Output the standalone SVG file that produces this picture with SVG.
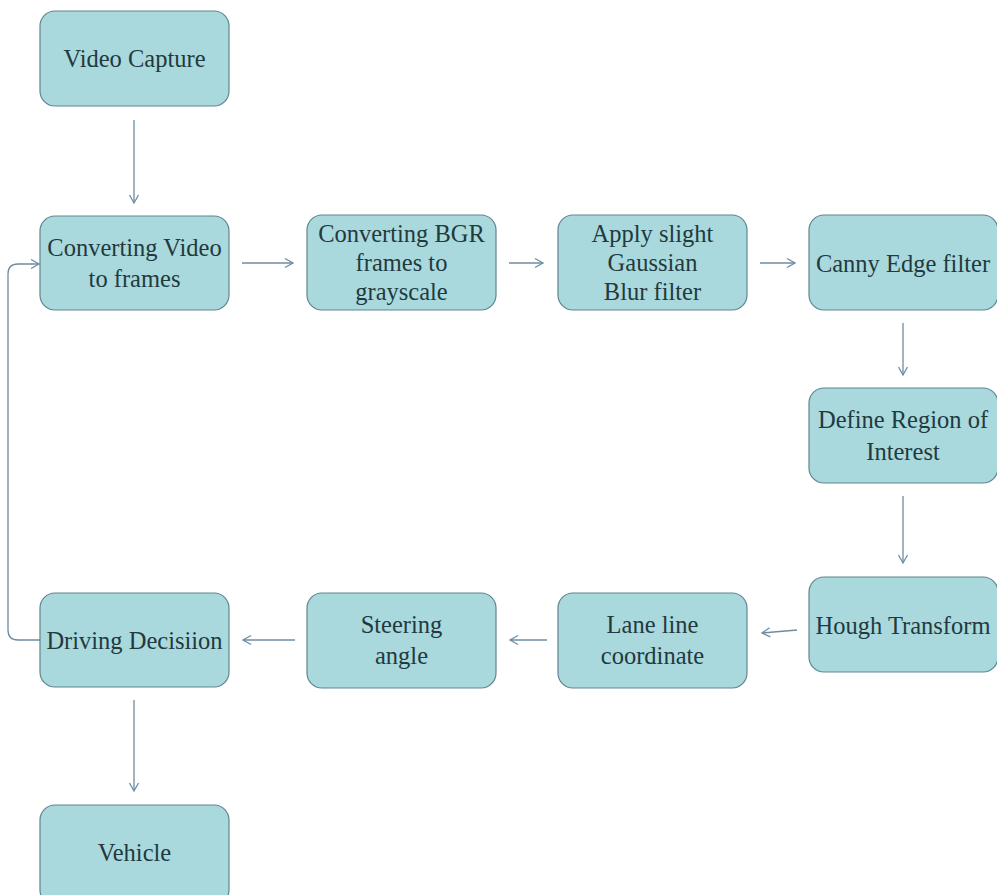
<svg xmlns="http://www.w3.org/2000/svg" width="997" height="895" viewBox="0 0 997 895" font-family="Liberation Serif, serif">
<style>
.box{fill:#a9d9dc;stroke:#5f8590;stroke-width:1.2}
.t{font-size:24.5px;fill:#22393f;text-anchor:middle}
.c{fill:none;stroke:#6d8ca1;stroke-width:1.3}
</style>
<defs>
<marker id="ah" markerWidth="12" markerHeight="12" refX="10" refY="6" orient="auto" markerUnits="userSpaceOnUse">
<path d="M2,1.5 L10,6 L2,10.5" fill="none" stroke="#6d8ca1" stroke-width="1.3"/>
</marker>
</defs>
<rect width="997" height="895" fill="#ffffff"/>
<g id="connectors">
<line class="c" x1="134" y1="120" x2="134" y2="203" marker-end="url(#ah)"/>
<line class="c" x1="242" y1="263" x2="293" y2="263" marker-end="url(#ah)"/>
<line class="c" x1="509" y1="263" x2="543" y2="263" marker-end="url(#ah)"/>
<line class="c" x1="760" y1="263" x2="795" y2="263" marker-end="url(#ah)"/>
<line class="c" x1="903" y1="323" x2="903" y2="375" marker-end="url(#ah)"/>
<line class="c" x1="903" y1="496" x2="903" y2="563" marker-end="url(#ah)"/>
<line class="c" x1="797" y1="630" x2="762" y2="633" marker-end="url(#ah)"/>
<line class="c" x1="547" y1="640" x2="510" y2="640" marker-end="url(#ah)"/>
<line class="c" x1="295" y1="640" x2="243" y2="640" marker-end="url(#ah)"/>
<line class="c" x1="134" y1="700" x2="134" y2="791" marker-end="url(#ah)"/>
<path class="c" d="M40,640 L18,640 Q8,640 8,630 L8,274 Q8,264 18,264 L39,264" marker-end="url(#ah)"/>
</g>
<g id="video-capture"><rect class="box" x="40" y="11" width="189" height="95" rx="15"/><text class="t" x="134.5" y="67">Video Capture</text></g>
<g id="converting-video"><rect class="box" x="40" y="216" width="189" height="94" rx="15"/><text class="t" x="134.5" y="256">Converting Video</text><text class="t" x="134.5" y="287">to frames</text></g>
<g id="converting-bgr"><rect class="box" x="307" y="215" width="189" height="95" rx="15"/><text class="t" x="401.5" y="242">Converting BGR</text><text class="t" x="401.5" y="271">frames to</text><text class="t" x="401.5" y="300">grayscale</text></g>
<g id="gaussian-blur"><rect class="box" x="558" y="215" width="189" height="95" rx="15"/><text class="t" x="652.5" y="242">Apply slight</text><text class="t" x="652.5" y="271">Gaussian</text><text class="t" x="652.5" y="300">Blur filter</text></g>
<g id="canny"><rect class="box" x="809" y="215" width="189" height="95" rx="15"/><text class="t" x="903" y="272">Canny Edge filter</text></g>
<g id="roi"><rect class="box" x="809" y="388" width="189" height="95" rx="15"/><text class="t" x="903" y="428">Define Region of</text><text class="t" x="903" y="460">Interest</text></g>
<g id="hough"><rect class="box" x="809" y="577" width="189" height="95" rx="15"/><text class="t" x="903" y="634">Hough Transform</text></g>
<g id="lane-line"><rect class="box" x="558" y="593" width="189" height="95" rx="15"/><text class="t" x="652.5" y="633">Lane line</text><text class="t" x="652.5" y="664">coordinate</text></g>
<g id="steering"><rect class="box" x="307" y="593" width="189" height="95" rx="15"/><text class="t" x="401.5" y="633">Steering</text><text class="t" x="401.5" y="664">angle</text></g>
<g id="driving-decision"><rect class="box" x="40" y="593" width="189" height="94" rx="15"/><text class="t" x="134.5" y="649">Driving Decisiion</text></g>
<g id="vehicle"><rect class="box" x="40" y="805" width="189" height="100" rx="15"/><text class="t" x="134.5" y="861">Vehicle</text></g>
</svg>
